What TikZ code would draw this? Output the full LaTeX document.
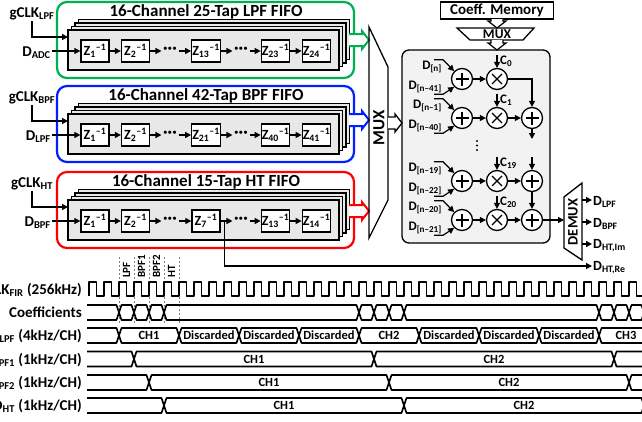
\documentclass[tikz,border=0pt]{standalone}
\usepackage{fontspec}
\setmainfont{Carlito}
\usetikzlibrary{arrows.meta}

\definecolor{fgreen}{RGB}{0,176,80}
\definecolor{fblue}{RGB}{0,32,255}
\definecolor{fred}{RGB}{255,0,0}
\definecolor{stackgray}{RGB}{232,232,232}
\definecolor{firgray}{RGB}{242,242,242}

\newcommand{\pxfont}[1]{\fontsize{#1}{#1}\selectfont\bfseries}
\newcommand{\zinv}[1]{Z\textsubscript{#1}\textsuperscript{–1}}
\newcommand{\busseg}[4]{%
  \draw[wave] (#2,#1) -- (#2+2.5,#1-7.5) -- (#3-2.5,#1-7.5) -- (#3,#1)
    -- (#3-2.5,#1+7.5) -- (#2+2.5,#1+7.5) -- cycle;
  \node[seglbl] at ({(#2+#3)/2},#1) {#4};}

\tikzset{
  ar/.style={-{Triangle[length=6pt,width=6pt]}, line width=1.2pt},
  zbox/.style={draw, line width=1.3pt, fill=white, minimum width=28pt,
    minimum height=22pt, inner sep=0.5pt, font=\pxfont{14}},
  dotnode/.style={inner sep=1.5pt, font=\pxfont{17}},
  ttl/.style={font=\pxfont{17}},
  lbl/.style={font=\pxfont{15}, inner sep=1pt},
  dlbl/.style={font=\pxfont{13}, inner sep=1pt},
  outlbl/.style={font=\pxfont{14}, inner sep=1pt, anchor=west},
  rowlbl/.style={font=\pxfont{15}, inner sep=0pt, anchor=base east},
  seglbl/.style={font=\pxfont{12.5}},
  wave/.style={line width=1.6pt, line join=round},
  addc/.style={circle, draw, line width=1.3pt, fill=white, minimum size=21pt,
    inner sep=0pt, path picture={\draw[line width=1.3pt]
      (path picture bounding box.center) +(-6.5,0) -- +(6.5,0) +(0,-6.5) -- +(0,6.5);}},
  mulc/.style={circle, draw, line width=1.3pt, fill=white, minimum size=21pt,
    inner sep=0pt, path picture={\draw[line width=1.3pt]
      (path picture bounding box.center) +(-5,-5) -- +(5,5) +(-5,5) -- +(5,-5);}},
  pics/bus/.style={code={\draw[fill=white] (0,-6) -- (#1-7,-6) -- (#1-7,-9)
      -- (#1,0) -- (#1-7,9) -- (#1-7,6) -- (0,6);}},
}

\begin{document}
\begin{tikzpicture}[x=1pt,y=-1pt]
\useasboundingbox (0,0) rectangle (642,421);

% FIFO banks
\foreach \yy/\col/\tap/\flt/\din/\za/\zb/\zc/\nm/\by in
  {2/fgreen/25/LPF/ADC/13/23/24/g/40, 86/fblue/42/BPF/LPF/21/40/41/b/120,
   172/fred/15/HT/BPF/7/13/14/r/211}{
  \draw[\col, line width=2.2pt, rounded corners=10pt] (57,\yy) rectangle (354,\yy+76);
  \node[ttl] (\nm t) at (206,\yy+10) {16-Channel \tap-Tap \flt{} FIFO};
  \foreach \k in {3,2,1,0}
    \draw[line width=1.3pt, fill=stackgray] (68+3.5*\k,\yy+28-3.5*\k) rectangle (339+3.5*\k,\yy+68-3.5*\k);
  \node[zbox] (\nm1) at (95,\yy+49) {\zinv{1}};
  \node[zbox] (\nm2) at (135.5,\yy+49) {\zinv{2}};
  \node[dotnode] (\nm d1) at (170,\yy+48) {···};
  \node[zbox] (\nm3) at (206,\yy+49) {\zinv{\za}};
  \node[dotnode] (\nm d2) at (241,\yy+48) {···};
  \node[zbox] (\nm4) at (275.5,\yy+49) {\zinv{\zb}};
  \node[zbox] (\nm5) at (316.5,\yy+49) {\zinv{\zc}};
  \draw[ar] (\nm1) -- (\nm2);
  \draw[ar] (\nm2) -- (\nm d1.west |- \nm2);
  \draw[ar] (\nm d1.east |- \nm3) -- (\nm3);
  \draw[ar] (\nm3) -- (\nm d2.west |- \nm3);
  \draw[ar] (\nm d2.east |- \nm4) -- (\nm4);
  \draw[ar] (\nm4) -- (\nm5);
  \node[lbl] (\nm clk) at (32,\yy+12) {gCLK\textsubscript{\flt}};
  \coordinate (\nm s) at (68,\yy+35);
  \draw[ar] (\nm clk.south) |- (\nm s);
  \node[lbl, anchor=east] (\nm in) at (52,\yy+51) {D\textsubscript{\din}};
  \draw[ar] (\nm in.east |- \nm1.west) -- (\nm1.west);
  \pic[color=\col, line width=2pt] at (349,\by) {bus=20};
}

% MUX
\draw[line width=1.3pt] (369,27) -- (388,67) -- (388,200) -- (369,238) -- cycle;
\node[rotate=90, font=\pxfont{17}] (mux) at (379,128) {MUX};

% coefficient memory
\node[draw, line width=1.3pt, minimum width=113pt, minimum height=17pt,
  inner sep=0pt, font=\pxfont{15}] (cmem) at (497,10.5) {Coeff. Memory};
\draw[line width=1.3pt] (457,28) -- (534,28) -- (523,40) -- (470,40) -- cycle;
\node[font=\pxfont{13.5}] (cmux) at (497,34) {MUX};
\pic[rotate=-90, line width=1.2pt] at (497,19) {bus=9};

% FIR core
\draw[line width=1.3pt, fill=firgray, rounded corners=7pt] (402,50) rectangle (550,243);
\pic[rotate=-90, line width=1.2pt] at (497,40) {bus=10};
\pic[line width=1.3pt] at (388,123) {bus=14};

\node[addc] (a1) at (462,79) {};
\node[mulc] (m1) at (497,79) {};
\node[addc] (a2) at (462,118) {};
\node[mulc] (m2) at (497,118) {};
\node[addc] (s2) at (532,118) {};
\node[addc] (a3) at (462,181) {};
\node[mulc] (m3) at (497,181) {};
\node[addc] (s3) at (532,181) {};
\node[addc] (a4) at (462,220) {};
\node[mulc] (m4) at (497,220) {};
\node[addc] (s4) at (532,220) {};
\foreach \d in {141,145.5,150}
  \fill (477,\d) circle (1.2pt);

\foreach \r/\up/\lo in {1/[n]/[n–41], 2/[n–1]/[n–40], 3/[n–19]/[n–22], 4/[n–20]/[n–21]}{
  \node[dlbl, anchor=east] (u\r) at ([xshift=-19pt,yshift=12pt]a\r.center) {D\textsubscript{\up}};
  \node[dlbl, anchor=east] (l\r) at ([xshift=-19pt,yshift=-8pt]a\r.center) {D\textsubscript{\lo}};
  \draw[ar] ([xshift=-9pt]u\r.north east) -- (u\r.north east) -- (a\r.135);
  \draw[ar] ([xshift=-9pt]l\r.south east) -- (l\r.south east) -- (a\r.225);
  \draw[ar] (a\r) -- (m\r);
}
\foreach \r/\cc in {1/0, 2/1, 3/19, 4/20}{
  \coordinate (k\r) at ([yshift=13pt]m\r.north);
  \draw[ar] (k\r) -- (m\r.north);
  \node[dlbl, anchor=west] (cl\r) at ([xshift=2pt,yshift=7pt]m\r.north) {C\textsubscript{\cc}};
}
\draw[ar] (m1) -| (s2);
\draw[ar] (m2) -- (s2);
\draw[ar] (m3) -- (s3);
\draw[ar] (m4) -- (s4);
\coordinate (gap1) at (532,139);
\coordinate (gap2) at (532,157);
\draw[ar] (s2) -- (gap1);
\draw[ar] (gap2) -- (s3);
\draw[ar] (s3) -- (s4);

% DEMUX
\draw[line width=1.3pt] (564,197) -- (582,183) -- (582,260) -- (564,248) -- cycle;
\node[rotate=90, font=\pxfont{14.5}] (dmx) at (573,222) {DEMUX};
\coordinate (din) at (564,220);
\draw[ar] (s4) -- (din);
\foreach \yy/\nm/\txt in {200/o1/LPF, 222/o2/BPF, 244/o3/{HT,Im}}{
  \coordinate (e\nm) at (582,\yy);
  \node[outlbl] (\nm) at (592,\yy+2) {D\textsubscript{\txt}};
  \draw[ar] (e\nm) -- (\nm.west |- e\nm);
}
\coordinate (tap) at ([xshift=4pt]r3.east);
\node[outlbl] (o4) at (592,268) {D\textsubscript{HT,Re}};
\draw[ar] (tap) |- (o4.west |- 0,266);

% timing diagram
\foreach \yy/\txt in {289/{CLK\textsubscript{FIR} (256kHz)}, 312.5/Coefficients,
  335.5/{D\textsubscript{LPF} (4kHz/CH)}, 359/{D\textsubscript{BPF1} (1kHz/CH)},
  382.5/{D\textsubscript{BPF2} (1kHz/CH)}, 405.5/{D\textsubscript{HT} (1kHz/CH)}}
  \node[rowlbl] at (82,\yy+5) {\txt};

\foreach \xx in {119,134,149,164,179}
  \draw[gray, line width=0.8pt, dash pattern=on 2pt off 2pt] (\xx,257) -- (\xx,324);
\foreach \xx/\txt in {126.5/LPF, 141.5/BPF1, 156.5/BPF2, 171.5/HT}
  \node[rotate=90, anchor=west, inner sep=0pt, font=\pxfont{11}] at (\xx,278) {\txt};

\begin{scope}
\clip (87,270) rectangle (642,421);
\draw[wave] (89,296) \foreach \k in {0,...,36}{ -- ++(0,-14) -- ++(7.5,0) -- ++(0,14) -- ++(7.5,0)};
\foreach \a/\b in {80/119,119/134,134/149,149/164,164/359,359/374,374/389,389/404,
  404/599,599/614,614/629,629/644,644/700}
  \busseg{312.5}{\a}{\b}{};
\foreach \a/\b/\txt in {80/119/{},119/179/CH1,179/239/Discarded,239/299/Discarded,
  299/359/Discarded,359/419/CH2,419/479/Discarded,479/539/Discarded,
  539/599/Discarded,599/653/CH3,653/720/{}}
  \busseg{335.5}{\a}{\b}{\txt};
\foreach \a/\b/\txt in {80/134/{},134/374/CH1,374/614/CH2,614/720/{}}
  \busseg{359}{\a}{\b}{\txt};
\foreach \a/\b/\txt in {80/149/{},149/389/CH1,389/629/CH2,629/720/{}}
  \busseg{382.5}{\a}{\b}{\txt};
\foreach \a/\b/\txt in {80/164/{},164/404/CH1,404/644/CH2,644/720/{}}
  \busseg{405.5}{\a}{\b}{\txt};
\end{scope}
\end{tikzpicture}
\end{document}
